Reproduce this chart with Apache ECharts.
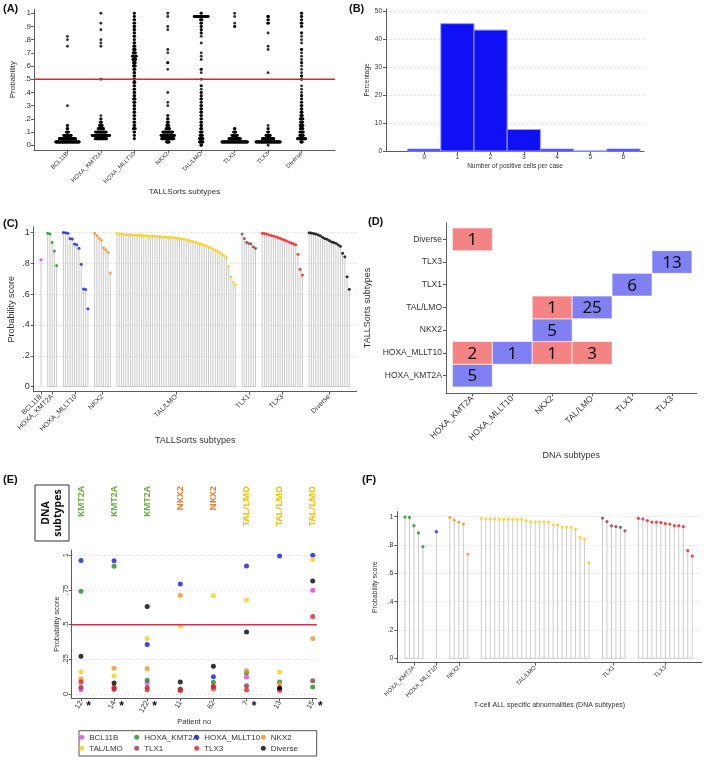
<!DOCTYPE html>
<html>
<head>
<meta charset="utf-8">
<script src="https://cdn.jsdelivr.net/npm/echarts@6/dist/echarts.min.js"></script>
<style>
  html, body { margin: 0; padding: 0; background: #fff; }
  #chart { width: 709px; height: 768px; }
</style>
</head>
<body>
<div id="chart"></div>
<script>
// ---------- shared ----------
const subtypes = ['BCL11B', 'HOXA_KMT2A', 'HOXA_MLLT10', 'NKX2', 'TAL/LMO', 'TLX1', 'TLX3', 'Diverse']
const subtypeColors = ['#e83be8', '#1e8c1e', '#1818ea', '#f5902c', '#f8cf1a', '#8b3a44', '#ea1c22', '#000000']

// ---------- (A) dot plot, binned: [probability, number of cases] ----------
const aBCL11B = [[0.025, 60], [0.05, 42], [0.075, 20], [0.1, 7], [0.125, 3], [0.15, 2], [0.3, 1], [0.75, 1], [0.8, 1], [0.825, 1]]
const aHOXA_KMT2A = [[0.05, 30], [0.075, 45], [0.1, 28], [0.125, 15], [0.15, 8], [0.175, 4], [0.2, 2], [0.225, 1], [0.5, 1],
  [0.75, 1], [0.775, 1], [0.8, 1], [0.875, 1], [0.925, 1], [1, 1]]
const aHOXA_MLLT10 = [[0.05, 2], [0.075, 2], [0.1, 3], [0.125, 6], [0.15, 3], [0.175, 3], [0.2, 3], [0.225, 3], [0.25, 3],
  [0.275, 3], [0.3, 3], [0.325, 4], [0.35, 5], [0.375, 3], [0.4, 3], [0.425, 3], [0.45, 3], [0.475, 4], [0.5, 4], [0.525, 3],
  [0.55, 3], [0.575, 4], [0.6, 6], [0.625, 6], [0.65, 8], [0.675, 11], [0.7, 7], [0.725, 5], [0.75, 4], [0.775, 3], [0.8, 2],
  [0.825, 3], [0.85, 3], [0.875, 3], [0.9, 3], [0.925, 3], [0.95, 3], [0.975, 2], [1, 2]]
const aNKX2 = [[0.025, 8], [0.05, 32], [0.075, 35], [0.1, 26], [0.125, 10], [0.15, 6], [0.175, 4], [0.2, 3], [0.225, 2],
  [0.3, 1], [0.325, 1], [0.4, 1], [0.575, 1], [0.625, 2], [0.7, 1], [0.725, 1], [0.875, 1], [0.9, 1], [0.975, 1], [1, 1]]
const aTAL_LMO = [[0, 3], [0.025, 10], [0.05, 10], [0.075, 7], [0.1, 6], [0.125, 4], [0.15, 3], [0.175, 3], [0.2, 3],
  [0.225, 3], [0.25, 3], [0.275, 3], [0.3, 3], [0.325, 2], [0.35, 3], [0.375, 2], [0.4, 2], [0.425, 1], [0.45, 2], [0.5, 1],
  [0.55, 1], [0.575, 2], [0.65, 1], [0.675, 1], [0.7, 1], [0.775, 1], [0.825, 1], [0.85, 2], [0.875, 2], [0.9, 2],
  [0.925, 3], [0.95, 5], [0.975, 36], [1, 2]]
const aTLX1 = [[0.025, 65], [0.05, 30], [0.075, 15], [0.1, 7], [0.125, 3], [0.9, 2], [0.925, 1], [0.975, 1], [1, 1]]
const aTLX3 = [[0, 1], [0.025, 62], [0.05, 30], [0.075, 12], [0.1, 4], [0.125, 2], [0.15, 1], [0.55, 1], [0.725, 1],
  [0.75, 1], [0.85, 1], [0.925, 3], [0.95, 3], [0.975, 3]]
const aDiverse = [[0.025, 5], [0.05, 22], [0.075, 10], [0.1, 10], [0.125, 8], [0.15, 8], [0.175, 6], [0.2, 8], [0.225, 5],
  [0.25, 4], [0.275, 3], [0.3, 3], [0.325, 2], [0.35, 2], [0.375, 2], [0.4, 1], [0.425, 1], [0.45, 1], [0.5, 2], [0.525, 2],
  [0.55, 1], [0.575, 1], [0.6, 1], [0.625, 2], [0.65, 1], [0.675, 1], [0.7, 1], [0.725, 2], [0.775, 1], [0.8, 1],
  [0.825, 1], [0.85, 2], [0.9, 2], [0.925, 3], [0.95, 2], [0.975, 2], [1, 2]]
const aBins = [aBCL11B, aHOXA_KMT2A, aHOXA_MLLT10, aNKX2, aTAL_LMO, aTLX1, aTLX3, aDiverse]
const aProbTicks = [0, 0.1, 0.2, 0.3, 0.4, 0.5, 0.6, 0.7, 0.8, 0.9, 1]
const cutoff = 0.5

// ---------- (B) histogram ----------
const bCells = ['0', '1', '2', '3', '4', '5', '6']
const bPercent = [0.7, 45.7, 43.4, 7.7, 0.7, 0, 0.7]
const bTicks = [0, 10, 20, 30, 40, 50]

// ---------- (C) probability score of every case, grouped by TALLSorts subtype ----------
const cBCL11B = [0.823]
const cHOXA_KMT2A = [0.995, 0.99, 0.935, 0.88, 0.785]
const cHOXA_MLLT10 = [1.0, 0.997, 0.995, 0.96, 0.958, 0.925, 0.92, 0.897, 0.793, 0.633, 0.63, 0.505]
const cNKX2 = [0.995, 0.98, 0.964, 0.949, 0.9, 0.888, 0.871, 0.737]
const cTAL_LMO = [0.994, 0.99, 0.989, 0.988, 0.987, 0.986, 0.985, 0.985, 0.984, 0.983, 0.982, 0.981,
  0.98, 0.979, 0.978, 0.977, 0.976, 0.975, 0.974, 0.973, 0.972, 0.971,
  0.97, 0.969, 0.968, 0.967, 0.965, 0.963, 0.961, 0.959,
  0.957, 0.953, 0.949, 0.945, 0.941, 0.937, 0.932,
  0.928, 0.924, 0.918, 0.912, 0.906, 0.9,
  0.893, 0.886, 0.879, 0.87, 0.858, 0.85, 0.838,
  0.78, 0.713, 0.678, 0.66]
const cTLX1 = [0.99, 0.96, 0.937, 0.928, 0.926, 0.907, 0.898]
const cTLX3 = [0.995, 0.993, 0.99, 0.985, 0.98, 0.976, 0.972, 0.967, 0.962, 0.956, 0.95, 0.945, 0.938, 0.932,
  0.926, 0.92, 0.858, 0.761, 0.724]
const cDiverse = [0.998, 0.996, 0.993, 0.99, 0.985, 0.978, 0.968, 0.96, 0.955, 0.948, 0.94, 0.935, 0.93, 0.92,
  0.91, 0.865, 0.843, 0.713, 0.631]
const cGroups = subtypes
const cScores = [cBCL11B, cHOXA_KMT2A, cHOXA_MLLT10, cNKX2, cTAL_LMO, cTLX1, cTLX3, cDiverse]

// ---------- (D) TALLSorts vs DNA subtype counts: [dna index, tallsorts index, n] ----------
const dnaSubtypes = ['HOXA_KMT2A', 'HOXA_MLLT10', 'NKX2', 'TAL/LMO', 'TLX1', 'TLX3']
const sortsSubtypes = ['HOXA_KMT2A', 'HOXA_MLLT10', 'NKX2', 'TAL/LMO', 'TLX1', 'TLX3', 'Diverse']
const dCounts = [[0, 0, 5], [0, 1, 2], [1, 1, 1], [2, 1, 1], [3, 1, 3], [2, 2, 5], [2, 3, 1], [3, 3, 25],
  [4, 4, 6], [5, 5, 13], [0, 6, 1]]

// ---------- (E) discordant patients ----------
const ePatients = ['12', '14', '122', '11', '62', '7', '13', '15']
const eStarred = [true, true, true, false, false, true, false, true]
const eDnaSubtype = ['KMT2A', 'KMT2A', 'KMT2A', 'NKX2', 'NKX2', 'TAL/LMO', 'TAL/LMO', 'TAL/LMO']
const eBCL11B = [0.03, 0.03, 0.082, 0.03, 0.035, 0.123, 0.024, 0.748]
const eHOXA_KMT2A = [0.74, 0.92, 0.1, 0.03, 0.084, 0.154, 0.087, 0.05]
const eHOXA_MLLT10 = [0.962, 0.96, 0.356, 0.793, 0.125, 0.923, 0.995, 1.0]
const eNKX2 = [0.108, 0.185, 0.183, 0.712, 0.038, 0.168, 0.072, 0.4]
const eTAL_LMO = [0.161, 0.132, 0.4, 0.488, 0.709, 0.678, 0.159, 0.969]
const eTLX1 = [0.048, 0.04, 0.048, 0.036, 0.048, 0.06, 0.04, 0.096]
const eTLX3 = [0.087, 0.048, 0.03, 0.026, 0.055, 0.029, 0.034, 0.558]
const eDiverse = [0.272, 0.08, 0.63, 0.087, 0.2, 0.447, 0.043, 0.815]
const eScores = [eBCL11B, eHOXA_KMT2A, eHOXA_MLLT10, eNKX2, eTAL_LMO, eTLX1, eTLX3, eDiverse]
const eTicks = [0, 0.25, 0.5, 0.75, 1]

// ---------- (F) probability score by DNA subtype ----------
const fGroups = ['HOXA_KMT2A', 'HOXA_MLLT10', 'NKX2', 'TAL/LMO', 'TLX1', 'TLX3']
const fHOXA_KMT2A = [0.997, 0.995, 0.936, 0.885, 0.788]
const fHOXA_MLLT10 = [0.894]
const fNKX2 = [0.995, 0.976, 0.962, 0.948, 0.736]
const fTAL_LMO = [0.988, 0.985, 0.984, 0.984, 0.983, 0.983, 0.982, 0.982, 0.981, 0.981, 0.972,
  0.965, 0.964, 0.964, 0.963, 0.963, 0.944, 0.943, 0.927, 0.926, 0.925, 0.913, 0.854, 0.842, 0.675]
const fTLX1 = [0.99, 0.965, 0.935, 0.93, 0.925, 0.9]
const fTLX3 = [0.988, 0.984, 0.972, 0.962, 0.962, 0.958, 0.951, 0.948, 0.936, 0.936, 0.929, 0.76, 0.722]
const fScores = [fHOXA_KMT2A, fHOXA_MLLT10, fNKX2, fTAL_LMO, fTLX1, fTLX3]
const cfTicks = [0, 0.2, 0.4, 0.6, 0.8, 1]

// ---------- helpers ----------
const font = '"Liberation Sans", Arial, sans-serif'
const calibri = '"Noto Sans", "Open Sans", sans-serif'
const ink = '#333'
const axisGray = '#5c5c5c'

const colorOf = name => subtypeColors[subtypes.indexOf(name)]
const probLabel = v => (v === 0 ? '0' : v === 1 ? '1' : String(v).replace(/^0\./, '.'))

// cases placed side by side, two empty slots between groups
function slotLayout (groups) {
  let slot = 0
  const pts = []
  const bases = []
  const centers = []
  groups.forEach((vals, g) => {
    const start = slot
    vals.forEach(v => { pts.push([slot, v, g]); slot++ })
    bases.push([start, slot - 1])
    centers.push((start + slot - 1) / 2)
    slot += 2
  })
  return { pts, bases, centers }
}

function valAxis (gridIndex, min, max, ticks, o) {
  o = o || {}
  return {
    type: 'value',
    gridIndex,
    min,
    max,
    axisLine: { show: true, onZero: false, lineStyle: { color: axisGray, width: 1 } },
    axisTick: { show: true, length: o.tickLen || 3, customValues: ticks, lineStyle: { color: axisGray } },
    axisLabel: {
      customValues: ticks,
      fontSize: o.fs || 8,
      color: ink,
      fontFamily: font,
      margin: o.margin || 4,
      rotate: o.rotate || 0,
      formatter: o.fmt || probLabel
    },
    splitLine: o.grid ? { show: true, lineStyle: { color: '#e2e2e2', type: [2, 2] } } : { show: false },
    name: o.name || '',
    nameLocation: 'middle',
    nameGap: o.gap || 20,
    nameTextStyle: { fontSize: o.nfs || o.fs || 8, color: ink, fontFamily: font }
  }
}

// horizontal reference line across the whole plot area
function cutoffLine (axis, color) {
  return {
    type: 'custom',
    xAxisIndex: axis,
    yAxisIndex: axis,
    silent: true,
    z: 3,
    data: [[cutoff]],
    renderItem: (params, api) => {
      const cs = params.coordSys
      const y = api.coord([0, api.value(0)])[1]
      return {
        type: 'line',
        shape: { x1: cs.x, y1: y, x2: cs.x + cs.width, y2: y },
        style: { stroke: color, lineWidth: 1.5 }
      }
    }
  }
}

// dot plot rows spread symmetrically around the category position
const aStep = 0.012
const aDots = []
aBins.forEach((bins, i) => {
  bins.forEach(([p, n]) => {
    for (let k = 0; k < n; k++) aDots.push([i + 1 + (k - (n - 1) / 2) * aStep, p])
  })
})

const cLay = slotLayout(cScores)
const fLay = slotLayout(fScores)

function stemSeries (axis, pts, color) {
  return {
    type: 'custom',
    xAxisIndex: axis,
    yAxisIndex: axis,
    silent: true,
    data: pts,
    renderItem: (params, api) => {
      const b = api.coord([api.value(0), 0])
      const t = api.coord([api.value(0), api.value(1)])
      return { type: 'line', shape: { x1: b[0], y1: b[1], x2: t[0], y2: t[1] }, style: { stroke: color, lineWidth: 1 } }
    }
  }
}

function baseSeries (axis, bases, color) {
  return {
    type: 'custom',
    xAxisIndex: axis,
    yAxisIndex: axis,
    silent: true,
    data: bases,
    renderItem: (params, api) => {
      const a = api.coord([api.value(0), 0])
      const b = api.coord([api.value(1), 0])
      return { type: 'line', shape: { x1: a[0], y1: a[1], x2: b[0], y2: b[1] }, style: { stroke: color, lineWidth: 1 } }
    }
  }
}

function dotSeries (axis, pts, names, size) {
  return {
    type: 'scatter',
    xAxisIndex: axis,
    yAxisIndex: axis,
    symbolSize: size,
    silent: true,
    data: pts.map(p => ({ value: [p[0], p[1]], itemStyle: { color: colorOf(names[p[2]]) } }))
  }
}

const panelLabel = (text, x, y) => ({
  type: 'text', x, y, style: { text, font: 'bold 11px ' + font, fill: '#111', verticalAlign: 'top' }
})

const chart = echarts.init(document.getElementById('chart'), null, { renderer: 'canvas' })

const grids = [
  { left: 34, top: 9.3, width: 301, height: 140.6 },
  { left: 386, top: 8.9, width: 258, height: 142.1 },
  { left: 33.7, top: 226.7, width: 323, height: 164.9 },
  { left: 446, top: 222.7, width: 250.7, height: 170.6 },
  { left: 71.7, top: 550, width: 245, height: 148.3 },
  { left: 397.3, top: 511.7, width: 304.4, height: 151 }
].map(g => Object.assign(g, { containLabel: false, outerBoundsMode: 'none' }))

const option = {
  animation: false,
  backgroundColor: '#fff',
  grid: grids,
  xAxis: [
    valAxis(0, 0, 9, [1, 2, 3, 4, 5, 6, 7, 8], { fmt: v => subtypes[v - 1], rotate: 45, fs: 6, margin: 3, name: 'TALLSorts subtypes', gap: 38, nfs: 8 }),
    valAxis(1, -1.15, 6.62, [0, 1, 2, 3, 4, 5, 6], { fmt: v => bCells[v], fs: 6.5, margin: 3, name: 'Number of positive cells per case', gap: 11.5 }),
    valAxis(2, -3.27, 141.3, cLay.centers, { fmt: v => cGroups[cLay.centers.indexOf(v)], rotate: 45, fs: 7, margin: 4, name: 'TALLSorts subtypes', gap: 40.6, nfs: 9 }),
    valAxis(3, -0.66, 5.62, [0, 1, 2, 3, 4, 5], { fmt: v => dnaSubtypes[v], rotate: 45, fs: 8.5, margin: 4, name: 'DNA subtypes', gap: 58, nfs: 9 }),
    valAxis(4, -0.28, 7.12, [0, 1, 2, 3, 4, 5, 6, 7], { fmt: v => ePatients[v], rotate: 60, fs: 7.5, margin: 3, name: 'Patient no', gap: 18.6 }),
    valAxis(5, -1.71, 66.1, fLay.centers, { fmt: v => fGroups[fLay.centers.indexOf(v)], rotate: 45, fs: 6, margin: 4, name: 'T-cell ALL specific abnormalities (DNA subtypes)', gap: 37.8, nfs: 7 })
  ],
  yAxis: [
    valAxis(0, -0.035, 1.03, aProbTicks, { fs: 8, margin: 3, name: 'Probability', gap: 17 }),
    valAxis(1, 0, 51, bTicks, { fmt: v => String(v), fs: 6.5, grid: true, name: 'Percentage', gap: 15.5 }),
    valAxis(2, -0.032, 1.037, cfTicks, { fs: 9, grid: true, margin: 4, name: 'Probability score', gap: 17.5 }),
    valAxis(3, -0.78, 6.73, [0, 1, 2, 3, 4, 5, 6], { fmt: v => sortsSubtypes[v], fs: 8.5, margin: 4, name: 'TALLSorts subtypes', gap: 74, nfs: 9 }),
    valAxis(4, -0.031, 1.038, eTicks, { rotate: 90, fs: 7.5, grid: true, margin: 2, name: 'Probability score', gap: 8.6 }),
    valAxis(5, -0.031, 1.035, cfTicks, { fs: 7, grid: true, margin: 4, name: 'Probability score', gap: 18.8 })
  ],
  legend: [
    ['BCL11B', 'TAL/LMO'], ['HOXA_KMT2A', 'TLX1'], ['HOXA_MLLT10', 'TLX3'], ['NKX2', 'Diverse']
  ].map((names, c) => ({
    orient: 'vertical',
    left: [79.2, 134.2, 194.2, 260.8][c],
    top: 733.3,
    padding: 0,
    itemWidth: 5,
    itemHeight: 5,
    itemGap: 3,
    icon: 'circle',
    selectedMode: false,
    data: names,
    textStyle: { fontSize: 8, lineHeight: 8, color: ink, fontFamily: font, padding: [0, 0, 0, 0] }
  })),
  graphic: [
    panelLabel('(A)', 3, 3),
    panelLabel('(B)', 349, 3),
    panelLabel('(C)', 3, 218),
    panelLabel('(D)', 368, 216),
    panelLabel('(E)', 3, 474),
    panelLabel('(F)', 362, 474),
    { type: 'rect', shape: { x: 35, y: 485, width: 34, height: 56 }, style: { fill: '#fff', stroke: '#333', lineWidth: 1 } },
    {
      type: 'text', x: 52, y: 513, rotation: Math.PI / 2,
      style: { text: 'DNA\nsubtypes', font: 'bold 10.5px ' + calibri, fill: '#111', align: 'center', verticalAlign: 'middle', lineHeight: 12 }
    },
    { type: 'rect', shape: { x: 79, y: 730.7, width: 237.7, height: 25.3 }, style: { fill: 'none', stroke: '#555', lineWidth: 1 } }
  ],
  series: [
    // (A)
    {
      type: 'scatter',
      xAxisIndex: 0,
      yAxisIndex: 0,
      symbolSize: 2.9,
      silent: true,
      itemStyle: { color: '#000' },
      data: aDots
    },
    cutoffLine(0, '#f01c24'),
    // (B)
    {
      type: 'custom',
      xAxisIndex: 1,
      yAxisIndex: 1,
      silent: true,
      data: bPercent.map((p, i) => [i, p]),
      renderItem: (params, api) => {
        const a = api.coord([api.value(0) - 0.5, api.value(1)])
        const b = api.coord([api.value(0) + 0.5, 0])
        return {
          type: 'rect',
          shape: { x: a[0], y: a[1], width: b[0] - a[0], height: b[1] - a[1] },
          style: { fill: '#1010f5', stroke: '#9a9aff', lineWidth: 1 }
        }
      }
    },
    // (C)
    stemSeries(2, cLay.pts, '#c9c9c9'),
    baseSeries(2, cLay.bases, '#c9c9c9'),
    dotSeries(2, cLay.pts, cGroups, 3),
    // (D)
    {
      type: 'custom',
      xAxisIndex: 3,
      yAxisIndex: 3,
      silent: true,
      data: dCounts,
      renderItem: (params, api) => {
        const x = api.value(0)
        const y = api.value(1)
        const a = api.coord([x - 0.5, y + 0.5])
        const b = api.coord([x + 0.5, y - 0.5])
        const match = dnaSubtypes[x] === sortsSubtypes[y]
        return {
          type: 'group',
          children: [
            {
              type: 'rect',
              shape: { x: a[0], y: a[1], width: b[0] - a[0], height: b[1] - a[1] },
              style: { fill: match ? '#8080f2' : '#f48383', stroke: 'rgba(255,255,255,0.6)', lineWidth: 1 }
            },
            {
              type: 'text',
              x: (a[0] + b[0]) / 2,
              y: (a[1] + b[1]) / 2 + 1,
              style: { text: String(api.value(2)), font: '17px ' + calibri, fill: '#111', align: 'center', verticalAlign: 'middle' }
            }
          ]
        }
      }
    },
    // (E)
    cutoffLine(4, '#cc3350'),
    ...eScores.map((vals, k) => ({
      name: subtypes[k],
      type: 'scatter',
      xAxisIndex: 4,
      yAxisIndex: 4,
      symbolSize: 5,
      silent: true,
      itemStyle: { color: subtypeColors[k] },
      data: vals.map((v, i) => [i, v])
    })),
    // (F)
    stemSeries(5, fLay.pts, '#cdcdcd'),
    baseSeries(5, fLay.bases, '#cdcdcd'),
    dotSeries(5, fLay.pts, fGroups, 3.2)
  ]
}

chart.setOption(option)

// column headers and asterisks of panel E, placed on the patient axis
const dnaColors = { 'KMT2A': '#70ad47', 'NKX2': '#ed7d31', 'TAL/LMO': '#ffc000' }
const eExtras = []
ePatients.forEach((p, i) => {
  const x = chart.convertToPixel({ xAxisIndex: 4 }, i)
  eExtras.push({
    type: 'text', x, y: 486, rotation: Math.PI / 2,
    style: { text: eDnaSubtype[i], font: 'bold 9px ' + calibri, fill: dnaColors[eDnaSubtype[i]], align: 'right', verticalAlign: 'middle' }
  })
  if (eStarred[i]) {
    eExtras.push({
      type: 'text', x: x + 7.5, y: 707,
      style: { text: '*', font: 'bold 12px ' + font, fill: '#111', align: 'center', verticalAlign: 'middle' }
    })
  }
})
chart.setOption({ graphic: option.graphic.concat(eExtras) })

window.addEventListener('resize', () => chart.resize())
</script>
</body>
</html>
